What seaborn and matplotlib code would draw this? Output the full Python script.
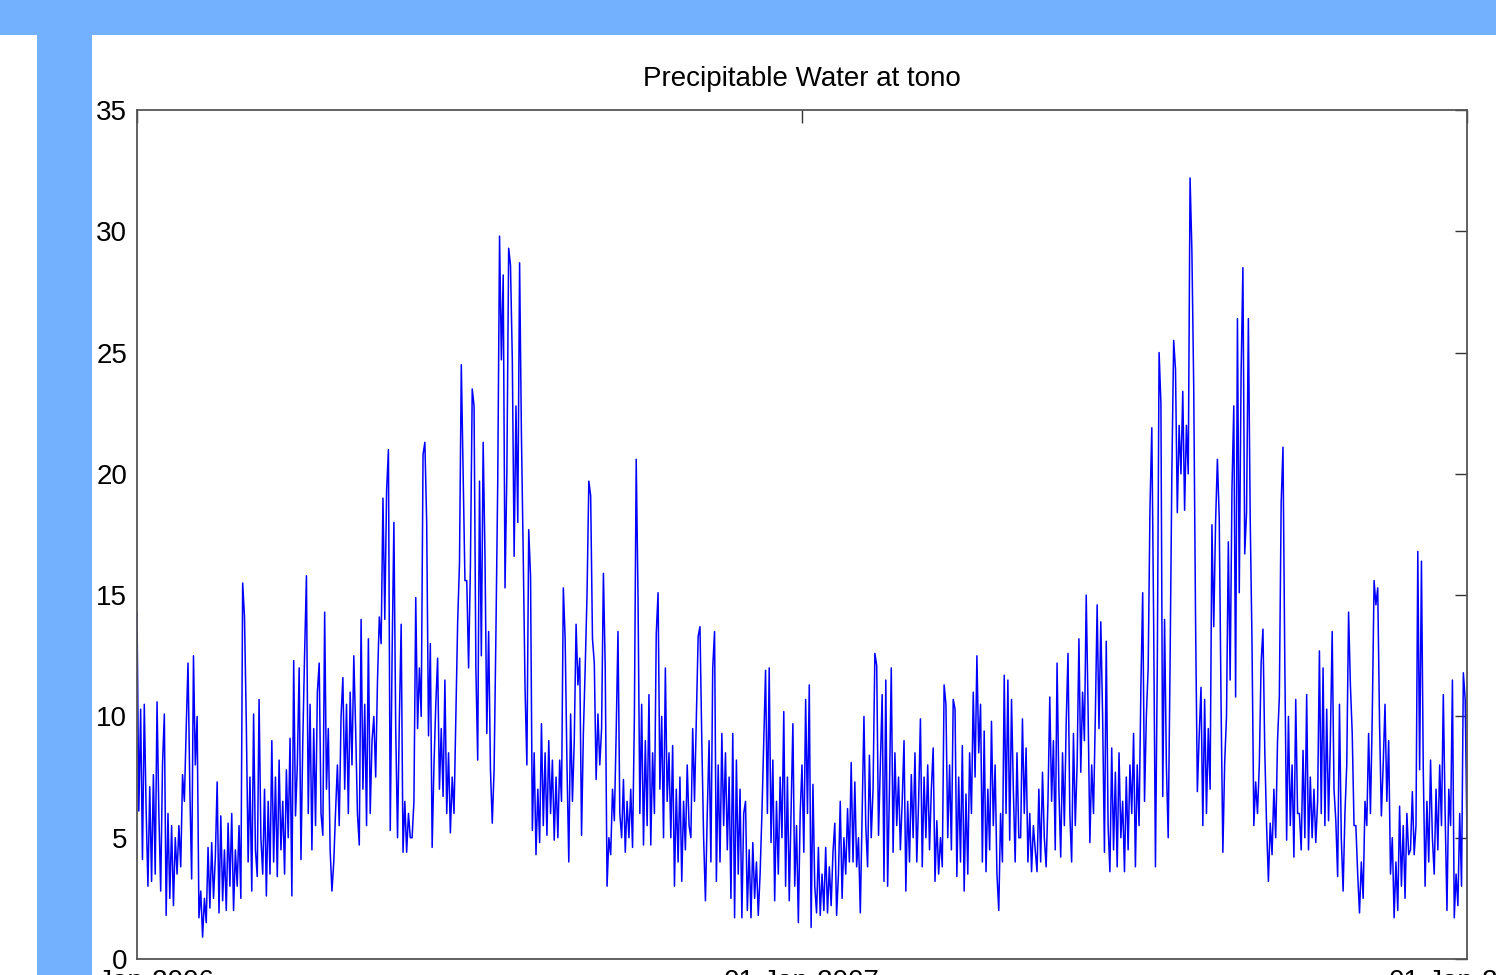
import pandas as pd
import seaborn as sns
import matplotlib.pyplot as plt
from matplotlib.patches import Rectangle

# daily precipitable water (mm), one list per month
pw_jan06 = [14.3, 6.1, 10.3, 4.1, 10.5, 6.2, 3.0, 7.1, 3.2, 7.6, 3.5, 10.6, 6.0, 2.8, 8.0, 10.1,
            1.8, 6.0, 2.5, 5.5, 2.2, 5.0, 3.5, 5.5, 3.8, 7.6, 6.5, 9.5, 12.2, 7.0, 3.3]
pw_feb06 = [12.5, 8.0, 10.0, 1.7, 2.8, 0.9, 2.5, 1.5, 4.6, 2.1, 4.8, 2.5, 4.2, 7.3, 1.9, 5.9,
            2.4, 4.5, 2.0, 5.6, 3.0, 6.0, 2.0, 4.5, 3.0, 5.5, 2.5, 15.5]
pw_mar06 = [14.1, 9.7, 4.0, 7.5, 2.8, 10.1, 4.5, 3.4, 10.7, 5.0, 3.5, 7.0, 2.6, 6.5, 3.5, 9.0,
            4.0, 7.5, 3.4, 8.2, 4.5, 6.5, 3.5, 7.8, 5.0, 9.1, 2.6, 12.3, 5.9, 8.0, 12.0]
pw_apr06 = [4.1, 9.0, 12.6, 15.8, 6.0, 10.5, 4.5, 9.5, 5.5, 11.0, 12.2, 6.0, 5.1, 14.3, 7.0,
            9.5, 4.5, 2.8, 4.0, 6.1, 8.0, 5.5, 10.0, 11.6, 7.0, 10.5, 6.0, 11.0, 8.0, 12.5]
pw_may06 = [9.5, 6.0, 4.7, 14.0, 7.0, 10.5, 5.5, 13.2, 6.0, 9.0, 10.0, 7.5, 11.5, 14.1, 13.0,
            19.0, 14.0, 19.3, 21.0, 5.3, 12.4, 18.0, 9.5, 5.0, 9.9, 13.8, 4.4, 6.5, 4.4, 6.0, 5.0]
pw_jun06 = [5.0, 6.5, 14.9, 9.5, 12.0, 10.0, 20.8, 21.3, 18.0, 9.2, 13.0, 4.6, 8.0, 10.5, 12.4,
            7.0, 9.5, 6.7, 11.5, 6.0, 8.5, 5.2, 7.5, 6.0, 10.0, 13.9, 16.3, 24.5, 20.0, 15.6]
pw_jul06 = [15.6, 12.0, 16.2, 23.5, 22.8, 12.0, 8.2, 19.7, 12.5, 21.3, 16.6, 9.3, 13.5, 7.8,
            5.6, 7.8, 13.4, 19.7, 29.8, 24.7, 28.2, 15.3, 20.0, 29.3, 28.6, 24.7, 16.6, 22.8,
            18.0, 28.7, 21.6]
pw_aug06 = [16.6, 11.1, 8.0, 17.7, 15.8, 5.3, 8.5, 4.3, 7.0, 4.8, 9.7, 5.5, 8.5, 5.1, 9.0, 6.0,
            8.2, 4.9, 7.5, 5.0, 8.2, 6.5, 15.3, 13.2, 8.0, 4.0, 10.1, 6.5, 9.0, 13.8, 11.3]
pw_sep06 = [12.4, 5.1, 9.3, 12.0, 15.0, 19.7, 19.1, 13.2, 12.2, 7.4, 10.1, 8.0, 9.5, 15.9, 12.0,
            3.0, 5.0, 4.3, 7.0, 5.7, 9.3, 13.5, 6.0, 5.0, 7.4, 4.4, 6.5, 5.0, 7.0, 4.6]
pw_oct06 = [10.0, 20.6, 14.9, 6.0, 10.5, 4.7, 9.0, 5.5, 10.9, 4.7, 8.5, 6.0, 13.4, 15.1, 7.0,
            10.0, 5.0, 12.0, 6.5, 8.5, 5.0, 8.8, 3.0, 7.0, 4.0, 7.5, 3.2, 6.5, 4.5, 8.0, 5.5]
pw_nov06 = [5.0, 9.5, 6.5, 10.0, 13.3, 13.7, 9.0, 5.0, 2.4, 6.0, 9.0, 4.0, 12.0, 13.5, 3.2, 8.0,
            4.0, 9.3, 5.5, 8.5, 4.5, 7.5, 2.5, 9.3, 1.7, 8.2, 3.5, 7.0, 1.7, 6.0]
pw_dec06 = [6.5, 2.0, 4.5, 1.7, 4.8, 2.5, 4.0, 1.8, 3.5, 6.0, 9.0, 11.9, 6.0, 12.0, 4.8, 8.2,
            2.4, 6.5, 3.5, 7.5, 5.0, 10.2, 3.0, 7.5, 2.4, 6.0, 9.7, 3.0, 5.5, 1.5, 6.0]
pw_jan07 = [8.0, 4.4, 10.7, 6.0, 11.3, 1.3, 7.2, 3.0, 1.9, 4.6, 1.8, 3.5, 2.0, 4.6, 1.9, 3.8,
            2.2, 4.4, 5.6, 1.8, 3.5, 6.5, 2.5, 5.0, 3.5, 6.2, 4.0, 8.1, 4.0, 7.3, 3.8]
pw_feb07 = [5.0, 1.9, 6.0, 10.0, 5.5, 3.8, 8.4, 5.0, 7.0, 12.6, 12.1, 5.1, 8.0, 10.9, 3.2, 11.5,
            3.0, 7.0, 12.0, 4.4, 8.5, 5.5, 7.5, 4.5, 6.5, 9.0, 2.8, 6.5]
pw_mar07 = [4.0, 7.6, 5.0, 8.5, 4.0, 6.5, 9.9, 3.8, 7.5, 5.0, 8.0, 4.5, 7.0, 8.7, 3.2, 5.7,
            3.5, 5.0, 3.8, 11.3, 10.5, 5.0, 8.0, 4.5, 10.7, 10.3, 3.4, 7.5, 4.0, 8.8, 2.8]
pw_apr07 = [6.8, 3.5, 8.5, 6.0, 11.0, 7.5, 12.5, 8.5, 10.5, 4.0, 9.4, 3.6, 7.0, 4.5, 9.8, 5.5,
            8.0, 3.5, 2.0, 6.0, 4.0, 11.7, 6.0, 11.5, 4.9, 10.7, 7.0, 4.0, 8.5, 5.0]
pw_may07 = [5.0, 9.9, 6.0, 8.7, 4.0, 6.0, 3.6, 5.5, 4.5, 3.6, 7.0, 4.0, 7.7, 5.0, 3.8, 6.5,
            10.8, 6.5, 9.0, 4.5, 12.2, 7.0, 4.2, 8.5, 5.5, 9.7, 12.6, 6.0, 4.0, 9.3, 5.5]
pw_jun07 = [8.0, 13.2, 7.7, 11.0, 9.0, 15.0, 10.4, 4.8, 8.0, 6.0, 10.0, 14.6, 9.5, 13.9, 10.0,
            4.4, 13.1, 5.5, 3.6, 8.7, 4.5, 7.7, 3.8, 8.5, 5.0, 6.5, 3.6, 7.5, 4.5, 8.0]
pw_jul07 = [6.0, 9.3, 3.8, 8.0, 5.5, 11.2, 15.1, 6.5, 10.0, 12.0, 18.6, 21.9, 14.0, 3.8, 12.0,
            25.0, 22.9, 6.7, 14.0, 8.0, 5.0, 12.0, 20.0, 25.5, 24.3, 18.4, 22.0, 20.0, 23.4,
            18.5, 22.0]
pw_aug07 = [20.0, 32.2, 29.2, 23.6, 14.1, 6.9, 9.2, 11.2, 5.5, 10.7, 6.0, 9.5, 7.0, 17.9, 13.7,
            18.0, 20.6, 18.2, 10.6, 4.4, 8.1, 10.0, 17.2, 11.5, 19.4, 22.8, 10.8, 26.4, 15.1,
            24.1, 28.5]
pw_sep07 = [16.7, 18.4, 26.4, 18.2, 13.0, 5.5, 7.3, 6.0, 8.0, 12.2, 13.6, 8.6, 5.5, 3.2, 5.6,
            4.3, 7.0, 5.0, 9.0, 10.8, 18.8, 21.1, 12.2, 4.9, 10.0, 5.5, 8.0, 4.2, 10.7, 6.0]
pw_oct07 = [6.0, 4.5, 8.6, 5.0, 10.9, 4.5, 7.5, 5.0, 7.0, 4.8, 6.5, 12.7, 6.0, 12.0, 5.5, 10.3,
            5.7, 9.0, 13.5, 7.0, 5.7, 3.4, 10.5, 5.0, 2.8, 6.0, 8.0, 14.3, 11.3, 9.3, 5.5]
pw_nov07 = [5.5, 3.5, 1.9, 4.0, 2.5, 6.5, 5.5, 9.3, 6.0, 10.0, 15.6, 14.6, 15.3, 9.7, 5.9, 8.0,
            10.5, 6.5, 9.0, 3.5, 5.0, 1.7, 4.0, 2.0, 6.3, 3.0, 5.5, 2.5, 6.0, 4.3]
pw_dec07 = [4.5, 6.9, 4.3, 5.5, 16.8, 7.8, 16.4, 7.8, 3.0, 6.5, 4.0, 8.2, 5.0, 3.5, 7.0, 4.5,
            8.0, 5.5, 10.9, 6.0, 2.0, 7.0, 5.5, 11.5, 1.7, 3.5, 2.2, 6.0, 3.0, 11.8, 10.7]
pw_jan08 = [5.0]

monthly = [pw_jan06, pw_feb06, pw_mar06, pw_apr06, pw_may06, pw_jun06,
           pw_jul06, pw_aug06, pw_sep06, pw_oct06, pw_nov06, pw_dec06,
           pw_jan07, pw_feb07, pw_mar07, pw_apr07, pw_may07, pw_jun07,
           pw_jul07, pw_aug07, pw_sep07, pw_oct07, pw_nov07, pw_dec07, pw_jan08]
month_starts = pd.date_range('2006-01-01', '2008-01-01', freq='MS')

tick_dates = ['2006-01-01', '2007-01-01', '2008-01-01']
tick_labels = ['01-Jan-2006', '01-Jan-2007', '01-Jan-2008']
y_ticks = [0, 5, 10, 15, 20, 25, 30, 35]

frames = []
for start, vals in zip(month_starts, monthly):
    frames.append(pd.DataFrame({'date': pd.date_range(start, periods=len(vals), freq='D'),
                                'pw': vals}))
df = pd.concat(frames, ignore_index=True)

sns.set_style('white')
plt.rcParams['font.family'] = ['Liberation Sans', 'DejaVu Sans']

W, H = 1496, 975
fig = plt.figure(figsize=(W / 100, H / 100), dpi=100)
ax = fig.add_axes([137 / W, 16 / H, 1330 / W, 849 / H])

sns.lineplot(data=df, x='date', y='pw', color='#0000ff', linewidth=1.1,
             estimator=None, ax=ax)

ax.set_xlim(pd.Timestamp(tick_dates[0]), pd.Timestamp(tick_dates[-1]))
ax.set_ylim(0, 35)
ax.set_yticks(y_ticks)
ax.set_xticks([pd.Timestamp(d) for d in tick_dates])
ax.set_xticklabels(tick_labels)
ax.set_xlabel('')
ax.set_ylabel('')
ax.tick_params(direction='in', length=9, width=1, top=True, right=True,
               labelsize=20, pad=7, color='#333333', labelcolor='black')
for side in ax.spines.values():
    side.set_color('#555555')
    side.set_linewidth(1.3)

ax.set_title('Precipitable Water at tono', fontsize=20, pad=17, color='black')

# slide decoration: top band and left strip drawn over everything
band = '#73b1ff'
fig.add_artist(Rectangle((0, 1 - 35 / H), 1, 35 / H, transform=fig.transFigure,
                         facecolor=band, edgecolor='none', zorder=10))
fig.add_artist(Rectangle((37 / W, 0), 55 / W, 1 - 35 / H, transform=fig.transFigure,
                         facecolor=band, edgecolor='none', zorder=10))

fig.savefig('out.png', dpi=100)
